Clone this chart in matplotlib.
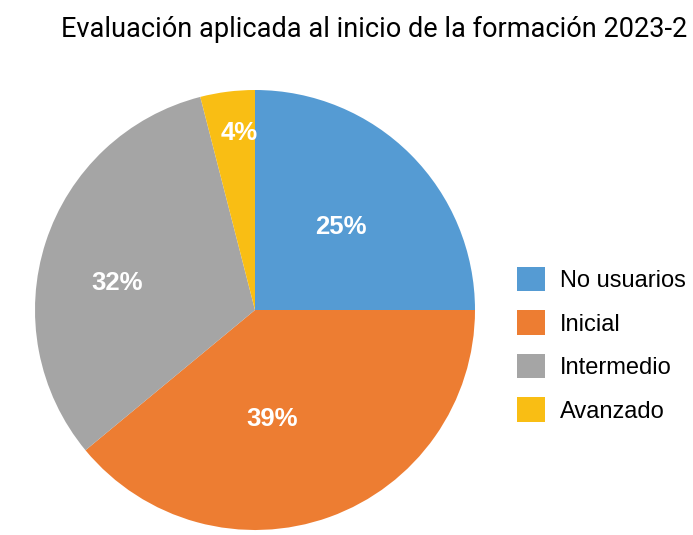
import numpy as np
import matplotlib.pyplot as plt
from matplotlib.transforms import IdentityTransform

# datos de la evaluación
categorias = ["No usuarios", "Inicial", "Intermedio", "Avanzado"]
porcentajes = [25, 39, 32, 4]
colores = ["#559BD3", "#ED7D32", "#A5A5A5", "#F9BE14"]
titulo = "Evaluación aplicada al inicio de la formación 2023-2"

# posición de cada etiqueta: distancia relativa y desvío de ángulo (grados)
dist_etiqueta = [0.54, 0.5, 0.64, 0.81]
desvio_etiqueta = [-1, -11, 7, -2]

W, H = 693, 535
fig = plt.figure(figsize=(W / 100, H / 100), dpi=100)
ax = fig.add_axes([0, 0, 1, 1])

cx, cy, r = 255, H - 310, 220
wedges, _ = ax.pie(porcentajes, colors=colores, startangle=90, counterclock=False,
                   center=(cx, cy), radius=r, wedgeprops=dict(linewidth=0))
ax.set_xlim(0, W)
ax.set_ylim(0, H)
ax.set_aspect("equal")
ax.axis("off")

for w, p, d, o in zip(wedges, porcentajes, dist_etiqueta, desvio_etiqueta):
    ang = np.deg2rad((w.theta1 + w.theta2) / 2 + o)
    ax.text(cx + d * r * np.cos(ang), cy + d * r * np.sin(ang), f"{p}%",
            ha="center", va="center", color="white", fontsize=18.5, fontweight="bold",
            family="Liberation Sans")

fig.text(374, H - 29, titulo, ha="center", va="center", fontsize=19.5, family="Roboto",
         transform=IdentityTransform())

leg = ax.legend(wedges, categorias, loc="upper left", bbox_to_anchor=(517, H - 267),
                bbox_transform=IdentityTransform(), frameon=False, borderpad=0,
                handlelength=1.2, handleheight=1.2, handletextpad=0.6,
                labelspacing=0.78, borderaxespad=0,
                prop={"family": "Liberation Sans", "size": 17})

fig.savefig("out.png", dpi=100)
